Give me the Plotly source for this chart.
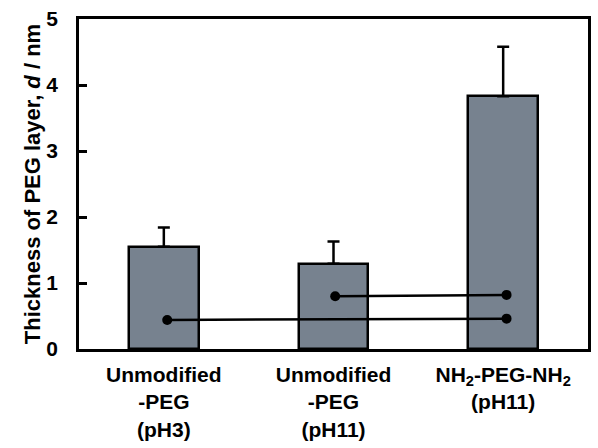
import plotly.graph_objects as go

categories = ["Unmodified<br>-PEG<br>(pH3)", "Unmodified<br>-PEG<br>(pH11)", "NH<sub>2</sub>-PEG-NH<sub>2</sub><br>(pH11)"]
x_pos = [0, 1, 2]
thickness = [1.55, 1.29, 3.83]
error_up = [0.29, 0.34, 0.75]

# significance brackets (x positions in category units, y in nm)
link1_x = [0.02, 2.02]
link1_y = [0.44, 0.46]
link2_x = [1.01, 2.02]
link2_y = [0.80, 0.82]

font_family = "Liberation Sans, Arial, sans-serif"

fig = go.Figure()
fig.add_trace(go.Bar(
    x=x_pos, y=thickness, width=0.41,
    marker=dict(color="#77828f", line=dict(color="black", width=2.5)),
    error_y=dict(type="data", array=error_up, arrayminus=[0, 0, 0], symmetric=False,
                 color="black", thickness=2.5, width=6),
    showlegend=False,
))
for lx, ly in [(link1_x, link1_y), (link2_x, link2_y)]:
    fig.add_trace(go.Scatter(
        x=lx, y=ly, mode="lines+markers",
        line=dict(color="black", width=2.5),
        marker=dict(color="black", size=10),
        showlegend=False,
    ))

fig.update_layout(
    width=598, height=448,
    margin=dict(l=79, r=7, t=18, b=98),
    paper_bgcolor="white", plot_bgcolor="white",
    font=dict(family=font_family, color="black", size=20, weight="bold"),
    bargap=0,
)
fig.update_xaxes(
    range=[-0.5, 2.5], tickvals=x_pos, ticktext=categories,
    showline=True, linecolor="black", linewidth=2.5, mirror=True,
    ticks="", showgrid=False, zeroline=False,
    tickfont=dict(size=21, family=font_family, weight="bold"),
    ticklabelstandoff=5,
)
fig.update_yaxes(
    range=[0, 5], tickvals=[0, 1, 2, 3, 4, 5],
    showline=True, linecolor="black", linewidth=2.5, mirror=True,
    ticks="inside", ticklen=8, tickwidth=2.5, tickcolor="black",
    showgrid=False, zeroline=False,
    tickfont=dict(size=21, family=font_family, weight="bold"),
    ticklabelstandoff=14,
    title=dict(text="Thickness of PEG layer, <i>d</i> / nm",
               font=dict(size=22, family=font_family, weight="bold"), standoff=0),
)
fig.write_html("out.html")
